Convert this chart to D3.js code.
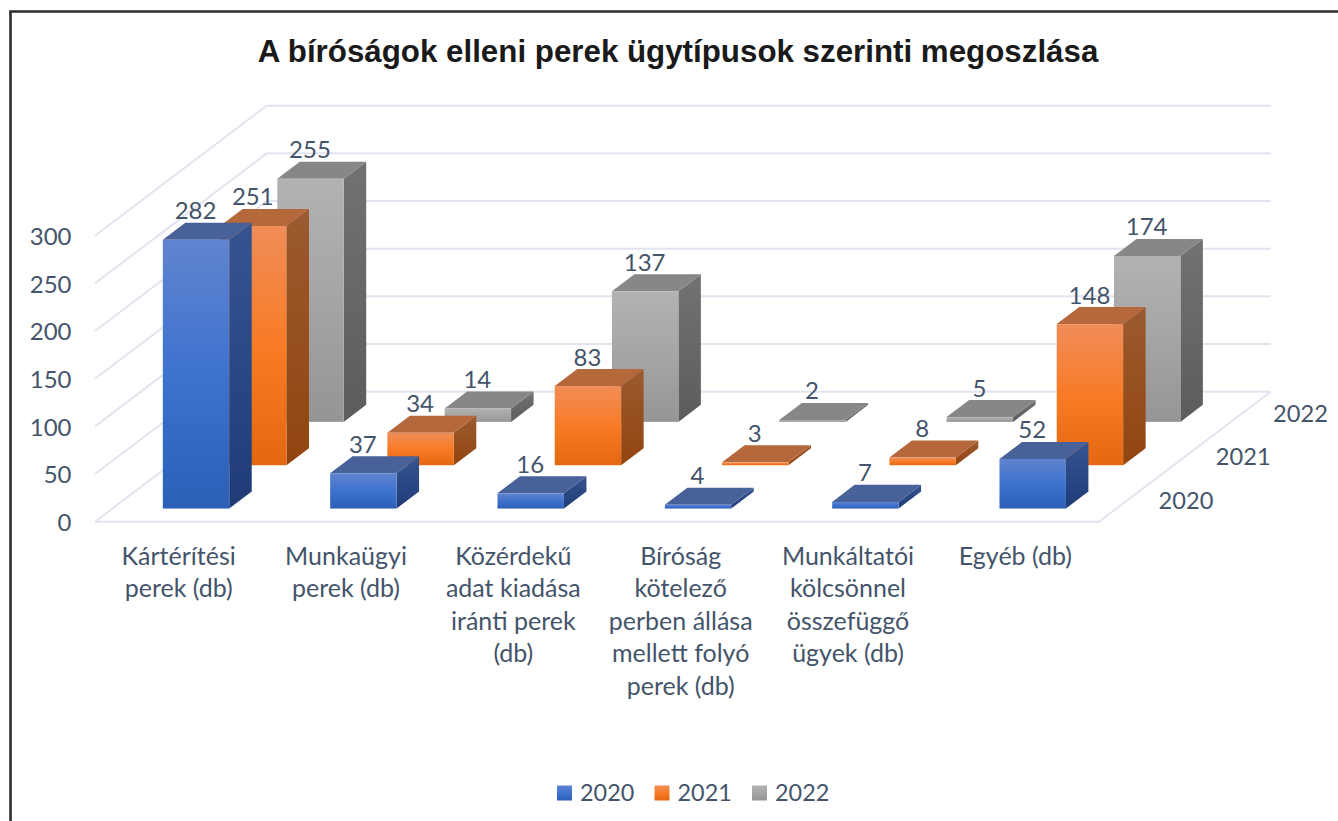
<!DOCTYPE html>
<html lang="hu">
<head>
<meta charset="utf-8">
<title>A bíróságok elleni perek ügytípusok szerinti megoszlása</title>
<script src="https://cdnjs.cloudflare.com/ajax/libs/d3/7.8.5/d3.min.js"></script>
<style>
html,body{margin:0;padding:0;background:#fff;overflow:hidden}
svg{display:block}
text{font-family:Lato,"Open Sans",sans-serif;fill:#44546a}
.axis path,.axis line{display:none}
</style>
</head>
<body>
<svg id="c" width="1338" height="821"></svg>
<script>
const title = "A bíróságok elleni perek ügytípusok szerinti megoszlása";
const categories = ["Kártérítési perek (db)", "Munkaügyi perek (db)", "Közérdekű adat kiadása iránti perek (db)", "Bíróság kötelező perben állása mellett folyó perek (db)", "Munkáltatói kölcsönnel összefüggő ügyek (db)", "Egyéb (db)"];
const categoryLines = [
  ["Kártérítési", "perek (db)"],
  ["Munkaügyi", "perek (db)"],
  ["Közérdekű", "adat kiadása", "iránti perek", "(db)"],
  ["Bíróság", "kötelező", "perben állása", "mellett folyó", "perek (db)"],
  ["Munkáltatói", "kölcsönnel", "összefüggő", "ügyek (db)"],
  ["Egyéb (db)"]
];
const years = ["2020", "2021", "2022"];
const values2020 = [282, 37, 16, 4, 7, 52];
const values2021 = [251, 34, 83, 3, 8, 148];
const values2022 = [255, 14, 137, 2, 5, 174];
const valueTicks = [0, 50, 100, 150, 200, 250, 300];

const seriesValues = {"2020": values2020, "2021": values2021, "2022": values2022};
const faceColours = {
  "2020": {front: ["#6084cf", "#3e72cf", "#2c5fb6"], side: ["#36548f", "#1f3c78"], top: "#486198"},
  "2021": {front: ["#f08d58", "#f87b26", "#e46712"], side: ["#9c5a30", "#91450f"], top: "#b5683c"},
  "2022": {front: ["#b2b2b2", "#a5a5a5", "#959595"], side: ["#727272", "#5c5c5c"], top: "#878787"}
};

const svg = d3.select("#c");
const floor = {x0: 95, x1: 1099, y0: 521.7, dx: 171.7, dy: 130};

const xBand = d3.scaleBand().domain(categories).range([floor.x0, floor.x1]);
const depthBand = d3.scaleBand().domain(years).range([0, 1]);
const yVal = d3.scaleLinear().domain([0, 300]).range([0, 286]);

const barFrac = 0.397;   // bar width as part of a category slot
const depthFrac = 0.393; // bar depth as part of a series slot

const px = (u, d) => u + d * floor.dx;
const py = (v, d) => floor.y0 - d * floor.dy - yVal(v);
const pts = a => a.map(p => p.join(",")).join(" ");

// background frame
svg.append("path").attr("d", "M1338,11.5H10.5V821").attr("fill", "none").attr("stroke", "#2d2d2d").attr("stroke-width", 2.6);

// gridlines
const grid = svg.append("g").attr("fill", "none").attr("stroke", "#e2e3ee");
valueTicks.forEach(v => {
  grid.append("polyline").attr("stroke-width", 2)
    .attr("points", pts([[px(floor.x0, 0), py(v, 0)], [px(floor.x0, 1), py(v, 1)], [px(floor.x1, 1), py(v, 1)]]));
});
grid.append("polyline").attr("stroke-width", 2)
  .attr("points", pts([[px(floor.x0, 0), py(0, 0)], [px(floor.x1, 0), py(0, 0)], [px(floor.x1, 1), py(0, 1)]]));

// gradients
const defs = svg.append("defs");
years.forEach(y => {
  const c = faceColours[y];
  const f = defs.append("linearGradient").attr("id", "front" + y).attr("x1", 0).attr("x2", 0).attr("y1", 0).attr("y2", 1);
  c.front.forEach((col, i) => f.append("stop").attr("offset", i / 2).attr("stop-color", col));
  const s = defs.append("linearGradient").attr("id", "side" + y).attr("x1", 0).attr("x2", 0).attr("y1", 0).attr("y2", 1);
  c.side.forEach((col, i) => s.append("stop").attr("offset", i).attr("stop-color", col));
});

// bars, back row first
const bars = svg.append("g");
const labels = [];
years.slice().reverse().forEach(y => {
  const dC = depthBand(y) + depthBand.bandwidth() / 2;
  const dHalf = depthBand.bandwidth() * depthFrac / 2;
  const d0 = dC - dHalf, d1 = dC + dHalf;
  categories.forEach((cat, i) => {
    const v = seriesValues[y][i];
    const uC = xBand(cat) + xBand.bandwidth() / 2;
    const uHalf = xBand.bandwidth() * barFrac / 2;
    const a = uC - uHalf, b = uC + uHalf;
    const g = bars.append("g");
    // right side
    g.append("polygon").attr("fill", `url(#side${y})`)
      .attr("points", pts([[px(b, d0), py(v, d0)], [px(b, d1), py(v, d1)], [px(b, d1), py(0, d1)], [px(b, d0), py(0, d0)]]));
    // top
    g.append("polygon").attr("fill", faceColours[y].top)
      .attr("points", pts([[px(a, d0), py(v, d0)], [px(a, d1), py(v, d1)], [px(b, d1), py(v, d1)], [px(b, d0), py(v, d0)]]));
    // front
    g.append("rect").attr("fill", `url(#front${y})`)
      .attr("x", px(a, d0)).attr("y", py(v, d0))
      .attr("width", px(b, d0) - px(a, d0)).attr("height", py(0, d0) - py(v, d0));
    labels.push({text: v, x: px(uC, d0) - 0.5, y: py(v, d1) - 3.5});
  });
});

// data labels
svg.append("g").selectAll("text").data(labels).join("text")
  .attr("x", d => d.x).attr("y", d => d.y)
  .attr("text-anchor", "middle").attr("font-size", 24).text(d => d.text);

// value axis
const yAxisScale = d3.scaleLinear().domain([0, 300]).range([floor.y0, floor.y0 - yVal(300)]);
const yAxis = svg.append("g").attr("class", "axis").attr("transform", "translate(71.5,1)")
  .call(d3.axisLeft(yAxisScale).tickValues(valueTicks).tickSize(0).tickPadding(0));
yAxis.selectAll("text").attr("font-size", 24);
yAxis.attr("font-family", null).attr("font-size", null);

// category axis
const xAxis = svg.append("g").attr("class", "axis").attr("transform", "translate(0,536)")
  .call(d3.axisBottom(xBand).tickSize(0).tickFormat(""));
xAxis.attr("font-family", null).attr("font-size", null);
xAxis.selectAll(".tick text").each(function(d, i) {
  const t = d3.select(this).attr("font-size", 25).attr("y", 0).attr("dy", null);
  categoryLines[i].forEach((line, j) => {
    t.append("tspan").attr("x", 0).attr("y", 29 + j * 32.4).text(line);
  });
});

// depth axis
svg.append("g").selectAll("text").data(years).join("text")
  .attr("font-size", 23.6).attr("text-anchor", "start")
  .attr("x", y => px(floor.x1, depthBand(y) + depthBand.bandwidth() / 2) + 31)
  .attr("y", y => py(0, depthBand(y) + depthBand.bandwidth() / 2) + 8.5)
  .text(y => y);

// title
svg.append("text").attr("x", 678).attr("y", 62).attr("text-anchor", "middle")
  .style("font-family", '"Liberation Sans",Arial,sans-serif').style("fill", "#1a1a1a")
  .attr("font-weight", 700).attr("font-size", 31.3).text(title);

// legend
const legendX = d3.scalePoint().domain(years).range([557, 752]);
const leg = svg.append("g").selectAll("g").data(years).join("g")
  .attr("transform", y => `translate(${legendX(y)},785.5)`);
leg.append("rect").attr("width", 15).attr("height", 15).attr("fill", y => `url(#front${y})`);
leg.append("text").attr("x", 23).attr("y", 15.5).attr("font-size", 23.4).text(y => y);
</script>
</body>
</html>
